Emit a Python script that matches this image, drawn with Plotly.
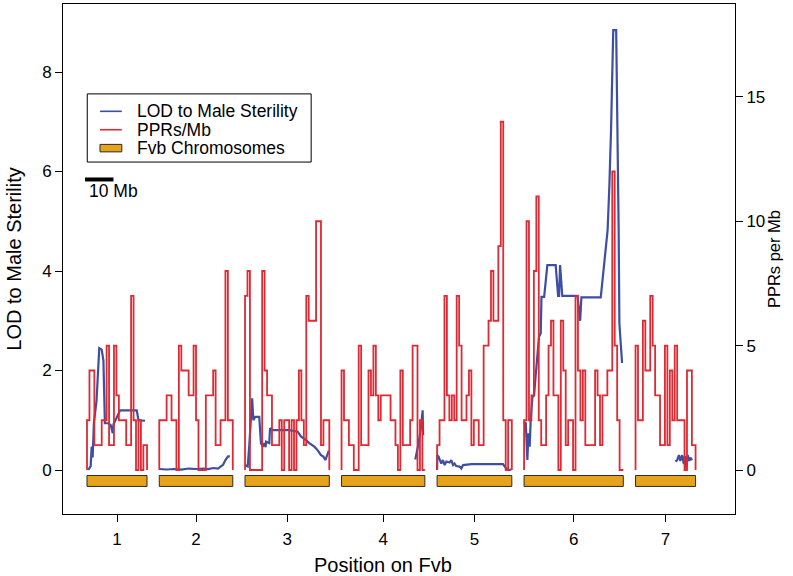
import plotly.graph_objects as go

# ---------------- data ----------------
chrom_labels = ["1", "2", "3", "4", "5", "6", "7"]
chrom_len_mb = [24.5, 30.0, 34.4, 34.0, 30.5, 40.5, 24.5]
gap_mb = 5.0

# PPRs per Mb, 1-Mb bins along each chromosome
ppr_fvb1 = [2, 4, 4, 1, 1, 1, 2, 2, 5, 1, 1, 5, 3, 2, 2, 2, 1, 1, 7, 2, 0, 2, 0, 1]
ppr_fvb2 = [2, 2, 2, 3, 3, 2, 2, 0, 5, 4, 4, 4, 3, 3, 5, 2, 0, 0, 0, 3, 3, 3, 4, 1, 1, 2, 2, 8, 2, 2]
ppr_fvb3 = [7, 8, 0, 0, 0, 0, 0, 8, 4, 3, 3, 1, 1, 1, 2, 0, 2, 2, 0, 2, 0, 2, 4, 2, 1, 7, 6, 6, 6, 10, 10, 1, 2, 2]
ppr_fvb4 = [4, 2, 2, 1, 1, 0, 0, 5, 1, 1, 1, 4, 3, 5, 3, 2, 3, 3, 3, 3, 2, 2, 1, 0, 4, 1, 1, 1, 2, 5, 5, 0, 2, 0]
ppr_fvb5 = [1, 2, 2, 7, 3, 2, 3, 2, 7, 5, 2, 2, 3, 4, 1, 2, 2, 1, 1, 5, 5, 6, 8, 6, 6, 9, 14, 2, 0, 2]
ppr_fvb6 = [2, 10, 2, 3, 8, 11, 2, 1, 1, 3, 5, 6, 3, 3, 0, 6, 4, 1, 2, 2, 0, 7, 4, 2, 4, 1, 1, 1, 1, 4, 3, 1, 3, 3, 4, 4, 12, 5, 2, 0]
ppr_fvb7 = [5, 2, 2, 6, 4, 4, 7, 5, 3, 3, 1, 1, 5, 1, 4, 2, 5, 2, 2, 2, 0, 4, 4, 1]

# LOD to male sterility: marker position (Mb within chromosome) and LOD
lod_pos_fvb1 = [0.5, 1.5, 1.9, 2.3, 2.8, 3.9, 5.0, 6.0, 6.7, 7.3, 8.7, 9.7, 10.5, 10.8, 12.1, 13.5, 15.5, 20.3, 21.0, 23.7]
lod_fvb1 = [0.0, 0.08, 0.47, 0.25, 0.94, 1.4, 2.45, 2.42, 2.2, 0.94, 0.94, 0.9, 0.74, 0.92, 1.05, 1.2, 1.2, 1.2, 1.0, 0.99]
lod_pos_fvb2 = [0.0, 3.0, 6.0, 9.0, 12.0, 15.0, 18.0, 20.0, 22.0, 24.0, 25.0, 26.0, 27.0, 28.0, 28.8]
lod_fvb2 = [0.02, 0.01, 0.02, 0.01, 0.03, 0.02, 0.03, 0.02, 0.04, 0.03, 0.07, 0.1, 0.2, 0.27, 0.28]
lod_pos_fvb3 = [0.0, 1.1, 1.8, 2.4, 2.9, 3.4, 4.2, 5.8, 6.5, 7.2, 7.9, 8.4, 8.6, 9.9, 10.2, 11.3, 18.1, 21.5, 22.9, 24.9, 26.2, 28.3, 29.6, 31.0, 32.0, 32.8, 33.3, 34.2]
lod_fvb3 = [0.1, 0.07, 0.54, 0.94, 1.44, 1.0, 1.07, 1.07, 0.54, 0.47, 0.54, 0.46, 0.57, 0.54, 0.84, 0.8, 0.8, 0.77, 0.67, 0.6, 0.54, 0.47, 0.4, 0.3, 0.27, 0.2, 0.27, 0.39]
lod_pos_fvb4 = [30.1, 31.5, 32.5, 33.1, 33.3]
lod_fvb4 = [0.21, 0.55, 0.9, 1.2, 0.7]
lod_pos_fvb5 = [0.0, 0.1, 0.6, 1.0, 1.7, 2.4, 3.1, 3.8, 5.1, 5.8, 6.5, 7.1, 7.8, 9.2, 9.9, 10.6, 14.0, 26.9, 28.2, 29.2, 30.3]
lod_fvb5 = [0.0, 0.3, 0.27, 0.2, 0.13, 0.2, 0.1, 0.17, 0.15, 0.2, 0.1, 0.13, 0.08, 0.07, 0.03, 0.1, 0.12, 0.12, 0.03, 0.0, 0.01]
lod_pos_fvb6 = [0.0, 0.7, 1.35, 1.8, 2.3, 2.7, 3.4, 4.1, 4.7, 6.1, 6.8, 7.1, 8.2, 9.5, 12.9, 13.9, 14.3, 14.7, 15.6, 21.8, 22.9, 23.4, 31.3, 32.8, 34.1, 34.8, 35.5, 36.4, 37.6, 38.6, 38.9, 40.0]
lod_fvb6 = [0.97, 0.94, 0.2, 0.74, 0.47, 1.0, 1.47, 1.5, 1.88, 2.68, 2.75, 3.48, 3.48, 4.12, 4.12, 3.5, 3.5, 4.12, 3.5, 3.5, 3.0, 3.47, 3.47, 4.22, 4.82, 5.69, 6.83, 8.84, 8.84, 4.89, 2.95, 2.15]
lod_pos_fvb7 = [16.3, 17.0, 17.7, 18.3, 19.0, 19.7, 20.1, 20.8, 21.3, 22.0, 22.4, 23.1]
lod_fvb7 = [0.17, 0.2, 0.3, 0.18, 0.3, 0.12, 0.28, 0.02, 0.3, 0.18, 0.25, 0.2]

legend_labels = ["LOD to Male Sterility", "PPRs/Mb", "Fvb Chromosomes"]
x_title = "Position on Fvb"
scale_bar_mb = 10
scale_bar_label = "10 Mb"

ppr_all = [ppr_fvb1, ppr_fvb2, ppr_fvb3, ppr_fvb4, ppr_fvb5, ppr_fvb6, ppr_fvb7]
lod_pos_all = [lod_pos_fvb1, lod_pos_fvb2, lod_pos_fvb3, lod_pos_fvb4, lod_pos_fvb5, lod_pos_fvb6, lod_pos_fvb7]
lod_all = [lod_fvb1, lod_fvb2, lod_fvb3, lod_fvb4, lod_fvb5, lod_fvb6, lod_fvb7]

# ---------------- styles ----------------
RED = "#DD2A33"
BLUE = "#3D4FA2"
ORANGE = "#E6A31B"
FONT = "Liberation Sans, Arial, sans-serif"
TICK_FS = 17
TITLE_FS = 20
LEG_FS = 17.5

# chromosome offsets on the genome axis
offsets = []
pos = 0.0
for L in chrom_len_mb:
    offsets.append(pos)
    pos += L + gap_mb
centers = [o + L / 2 for o, L in zip(offsets, chrom_len_mb)]

fig = go.Figure()

# PPR step lines (right axis)
rx, ry = [], []
for o, L, vals in zip(offsets, chrom_len_mb, ppr_all):
    xs = [o, o] + [o + k for k in range(1, len(vals))] + [o + L]
    ys = [0] + list(vals) + [0]
    rx += xs + [None]
    ry += ys + [None]
fig.add_trace(go.Scatter(x=rx, y=ry, mode="lines", yaxis="y2",
                         line=dict(color=RED, width=1.8, shape="hv"),
                         showlegend=False, hoverinfo="skip", connectgaps=False))

# chromosome bars
bar_lo, bar_hi = -0.33, -0.11
for o, L in zip(offsets, chrom_len_mb):
    fig.add_trace(go.Scatter(x=[o, o + L, o + L, o, o], y=[bar_lo, bar_lo, bar_hi, bar_hi, bar_lo],
                             mode="lines", fill="toself", fillcolor=ORANGE,
                             line=dict(color="#2b2b2b", width=1), showlegend=False,
                             hoverinfo="skip"))

# LOD lines (left axis)
bx, by = [], []
for o, ps, vs in zip(offsets, lod_pos_all, lod_all):
    bx += [o + p for p in ps] + [None]
    by += list(vs) + [None]
fig.add_trace(go.Scatter(x=bx, y=by, mode="lines", line=dict(color=BLUE, width=2.2),
                         showlegend=False, hoverinfo="skip", connectgaps=False))

# ---------------- legend (drawn in data units) ----------------
lx0, lx1 = 0.1, 91.5
ly0, ly1 = 6.19, 7.56
fig.add_shape(type="rect", x0=lx0, x1=lx1, y0=ly0, y1=ly1, xref="x", yref="y",
              line=dict(color="black", width=1), fillcolor="white", layer="above")
row_y = [7.21, 6.84, 6.47]
fig.add_shape(type="line", x0=5.3, x1=14.2, y0=row_y[0], y1=row_y[0], line=dict(color=BLUE, width=1.6))
fig.add_shape(type="line", x0=5.3, x1=14.2, y0=row_y[1], y1=row_y[1], line=dict(color=RED, width=1.6))
fig.add_shape(type="rect", x0=5.3, x1=14.2, y0=row_y[2] - 0.075, y1=row_y[2] + 0.075,
              line=dict(color="#2b2b2b", width=1), fillcolor=ORANGE)
for ytxt, lab in zip(row_y, legend_labels):
    fig.add_annotation(x=19.6, y=ytxt, text=lab, xref="x", yref="y", showarrow=False,
                       xanchor="left", yanchor="middle", font=dict(size=LEG_FS, color="black", family=FONT))

# scale bar
fig.add_shape(type="line", x0=-0.8, x1=scale_bar_mb + 0.8, y0=5.84, y1=5.84,
              line=dict(color="black", width=4))
fig.add_annotation(x=-0.2, y=5.6, text=scale_bar_label, xref="x", yref="y", showarrow=False,
                   xanchor="left", yanchor="middle", font=dict(size=LEG_FS, color="black", family=FONT))

# x-axis title (placed under the genome axis, as in the original figure)
fig.add_annotation(x=120.8, y=-0.1, xref="x", yref="paper", text=x_title, showarrow=False,
                   xanchor="center", yanchor="middle", font=dict(size=TITLE_FS, color="black", family=FONT))

ymin, ymax = -0.884, 9.367
fig.update_layout(
    width=793, height=576,
    margin=dict(l=63, r=58, t=4, b=62),
    plot_bgcolor="white", paper_bgcolor="white",
    font=dict(family=FONT, size=TICK_FS, color="black"),
    showlegend=False,
    xaxis=dict(range=[-9.8, 264.5], tickmode="array", tickvals=centers, ticktext=chrom_labels,
               ticks="outside", ticklen=7, tickcolor="black", showgrid=False, zeroline=False,
               showline=True, linecolor="black", linewidth=1, mirror=True,
               ticklabelstandoff=3, tickfont=dict(size=TICK_FS)),
    yaxis=dict(range=[ymin, ymax], tickvals=[0, 2, 4, 6, 8], ticks="outside", ticklen=7,
               tickcolor="black", showgrid=False, zeroline=False, showline=True,
               linecolor="black", linewidth=1, mirror=True,
               title=dict(text="LOD to Male Sterility", standoff=15, font=dict(size=TITLE_FS)),
               tickfont=dict(size=TICK_FS)),
    yaxis2=dict(range=[2 * ymin, 2 * ymax], tickvals=[0, 5, 10, 15], overlaying="y", side="right",
                ticks="outside", ticklen=7, tickcolor="black", showgrid=False, zeroline=False,
                showline=False, title=dict(text="PPRs per Mb", standoff=2, font=dict(size=16.5)),
                tickfont=dict(size=TICK_FS)),
)

fig.write_html("out.html", config={"displayModeBar": False},
               post_script="document.body.style.margin='0';")
